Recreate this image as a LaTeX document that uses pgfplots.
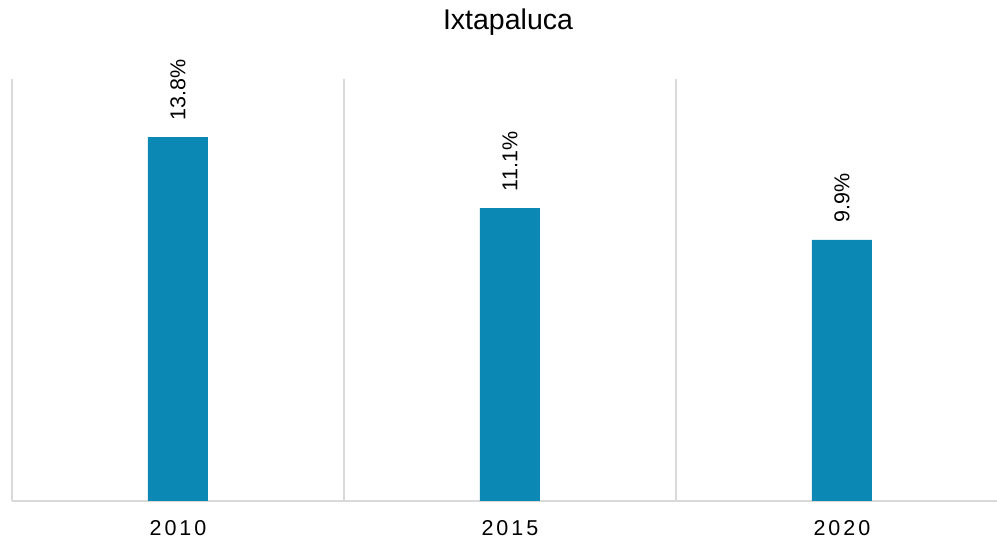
\documentclass[border=0pt]{standalone}
\usepackage{pgfplots}
\pgfplotsset{compat=1.18}
\usepackage{fontspec}
\setmainfont{Liberation Sans}
\newfontfamily\tickfont[LetterSpace=14]{Liberation Sans}
\definecolor{barblue}{HTML}{0B88B3}
\definecolor{gridgray}{HTML}{D9D9D9}
\begin{document}
\begin{tikzpicture}
\useasboundingbox (0,0) rectangle (997pt,541pt);
\node[font=\fontsize{28.5}{30}\selectfont] at (508pt,519pt) {Ixtapaluca};
\begin{axis}[
  at={(12pt,40pt)}, anchor=south west,
  scale only axis,
  width=985pt, height=422pt,
  xmin=-0.5, xmax=2.467,
  ymin=0, ymax=16,
  axis y line=none,
  axis x line*=bottom,
  x axis line style={draw=gridgray, line width=1.8pt},
  xtick={0,1,2},
  xticklabels={2010,2015,2020},
  major tick length=0pt,
  xticklabel style={font=\tickfont\fontsize{21.5}{24}\selectfont, yshift=-16pt},
  extra x ticks={-0.5,0.5,1.5},
  extra x tick labels={},
  extra x tick style={grid=major, major grid style={draw=gridgray, line width=1.8pt}},
  ybar, bar width=60pt,
  /pgf/number format/assume math mode=true,
  nodes near coords={\pgfmathprintnumber[fixed,precision=1,fixed zerofill]{\pgfplotspointmeta}\%},
  nodes near coords style={font=\fontsize{21.5}{24}\selectfont, rotate=90, anchor=west, inner sep=0pt, outer xsep=17pt},
]
\addplot[fill=barblue, draw=none] coordinates {(0,13.8) (1,11.1) (2,9.9)};
\end{axis}
\end{tikzpicture}
\end{document}
